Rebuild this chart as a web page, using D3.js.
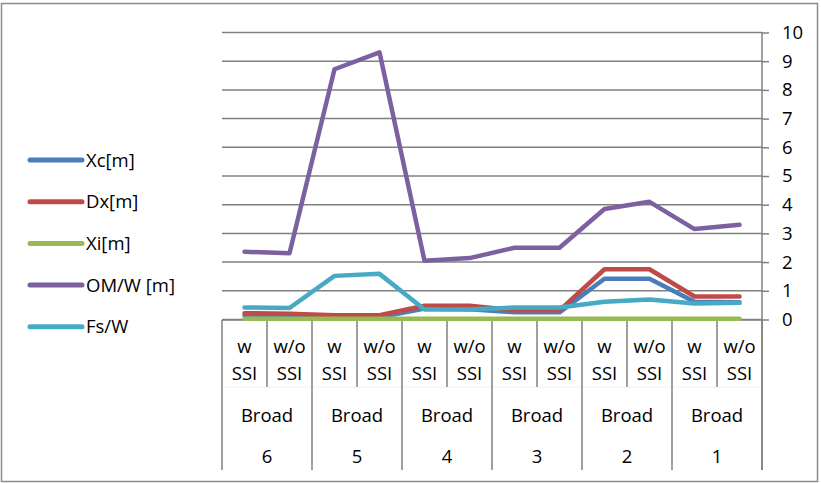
<!DOCTYPE html>
<html>
<head>
<meta charset="utf-8">
<script src="https://cdn.jsdelivr.net/npm/d3@7"></script>
<style>
  body { margin: 0; background: #fff; }
  svg text { font-family: "Open Sans", "Noto Sans", sans-serif; fill: #000; }
</style>
</head>
<body>
<div id="chart"></div>
<script>
const subLabels = ['w SSI', 'w/o SSI', 'w SSI', 'w/o SSI', 'w SSI', 'w/o SSI', 'w SSI', 'w/o SSI', 'w SSI', 'w/o SSI', 'w SSI', 'w/o SSI'];
const groupNames = ['Broad', 'Broad', 'Broad', 'Broad', 'Broad', 'Broad'];
const groupNums = ['6', '5', '4', '3', '2', '1'];

const xcVals = [0.15, 0.15, 0.08, 0.08, 0.38, 0.36, 0.25, 0.25, 1.42, 1.42, 0.62, 0.60];
const dxVals = [0.22, 0.20, 0.15, 0.15, 0.48, 0.48, 0.32, 0.32, 1.75, 1.75, 0.80, 0.80];
const xiVals = [0.03, 0.03, 0.03, 0.03, 0.03, 0.03, 0.03, 0.03, 0.03, 0.03, 0.03, 0.03];
const omVals = [2.36, 2.31, 8.72, 9.31, 2.05, 2.14, 2.50, 2.50, 3.85, 4.10, 3.15, 3.30];
const fsVals = [0.42, 0.40, 1.52, 1.59, 0.35, 0.35, 0.42, 0.42, 0.62, 0.70, 0.56, 0.58];

const seriesNames = ['Xc[m]', 'Dx[m]', 'Xi[m]', 'OM/W [m]', 'Fs/W'];
const seriesColors = ['#4A7EBB', '#BE4B48', '#98B954', '#7D60A0', '#46AAC5'];
const series = [xcVals, dxVals, xiVals, omVals, fsVals];

const width = 821, height = 483;
const fontSize = 18.5;
const svg = d3.select('#chart').append('svg')
  .attr('width', width)
  .attr('height', height);

// outer border
svg.append('rect')
  .attr('x', 1.5).attr('y', 3.5)
  .attr('width', 816).attr('height', 478)
  .attr('fill', 'none').attr('stroke', '#8c8c8c').attr('stroke-width', 1.5);

const x = d3.scaleBand().domain(d3.range(12)).range([222, 762]);
const y = d3.scaleLinear().domain([0, 10]).range([319.5, 32.5]);
const cx = i => x(i) + x.bandwidth() / 2;

// gridlines
svg.append('g').selectAll('line')
  .data(y.ticks(10))
  .enter().append('line')
  .attr('x1', 222).attr('x2', 762)
  .attr('y1', d => y(d)).attr('y2', d => y(d))
  .attr('stroke', '#808080').attr('stroke-width', 1.5);

// right axis
const yAxis = svg.append('g')
  .attr('transform', 'translate(762,0)')
  .call(d3.axisRight(y).ticks(10).tickSize(7).tickPadding(13).tickSizeOuter(0));
yAxis.select('.domain').attr('stroke', '#808080').attr('stroke-width', 1.5)
  .attr('d', `M0,${y(10)}V470`);
yAxis.selectAll('.tick line').attr('stroke', '#808080').attr('stroke-width', 1.5);
yAxis.selectAll('.tick text').attr('font-size', fontSize).attr('text-anchor', 'start')
  .style('font-family', '"Open Sans", sans-serif');

// category table under the plot
const tbl = svg.append('g');
tbl.append('line')
  .attr('x1', 222).attr('x2', 762).attr('y1', 320).attr('y2', 320)
  .attr('stroke', '#808080').attr('stroke-width', 1.5);
tbl.append('line')
  .attr('x1', 222).attr('x2', 762).attr('y1', 387).attr('y2', 387)
  .attr('stroke', '#f0f0f0').attr('stroke-width', 1);
tbl.selectAll('line.div')
  .data(d3.range(13))
  .enter().append('line')
  .attr('class', 'div')
  .attr('x1', i => i < 12 ? x(i) : 762)
  .attr('x2', i => i < 12 ? x(i) : 762)
  .attr('y1', 320)
  .attr('y2', i => i % 2 === 0 ? 470 : 387)
  .attr('stroke', '#808080').attr('stroke-width', 1.5);

const subText = tbl.selectAll('text.sub')
  .data(subLabels)
  .enter().append('text')
  .attr('class', 'sub')
  .attr('text-anchor', 'middle')
  .attr('font-size', fontSize);
subText.append('tspan').attr('x', (d, i) => cx(i)).attr('y', 353)
  .text(d => d.split(' ')[0]);
subText.append('tspan').attr('x', (d, i) => cx(i)).attr('y', 380)
  .text(d => d.split(' ')[1]);

tbl.selectAll('text.grp')
  .data(groupNames)
  .enter().append('text')
  .attr('class', 'grp')
  .attr('x', (d, i) => x(i * 2) + x.bandwidth())
  .attr('y', 422)
  .attr('text-anchor', 'middle')
  .attr('font-size', fontSize)
  .text(d => d);

tbl.selectAll('text.num')
  .data(groupNums)
  .enter().append('text')
  .attr('class', 'num')
  .attr('x', (d, i) => x(i * 2) + x.bandwidth())
  .attr('y', 463)
  .attr('text-anchor', 'middle')
  .attr('font-size', fontSize)
  .text(d => d);

// series lines
const line = d3.line().x((d, i) => cx(i)).y(d => y(d));
svg.append('g').selectAll('path')
  .data(series)
  .enter().append('path')
  .attr('d', line)
  .attr('fill', 'none')
  .attr('stroke', (d, i) => seriesColors[i])
  .attr('stroke-width', 4.5)
  .attr('stroke-linecap', 'round')
  .attr('stroke-linejoin', 'round');

// legend
const legend = svg.append('g').selectAll('g')
  .data(seriesNames)
  .enter().append('g')
  .attr('transform', (d, i) => `translate(0,${160 + i * 41.7})`);
legend.append('line')
  .attr('x1', 30).attr('x2', 82)
  .attr('stroke', (d, i) => seriesColors[i])
  .attr('stroke-width', 5)
  .attr('stroke-linecap', 'round');
legend.append('text')
  .attr('x', 86).attr('y', 6.5)
  .attr('font-size', fontSize)
  .text(d => d);
</script>
</body>
</html>
